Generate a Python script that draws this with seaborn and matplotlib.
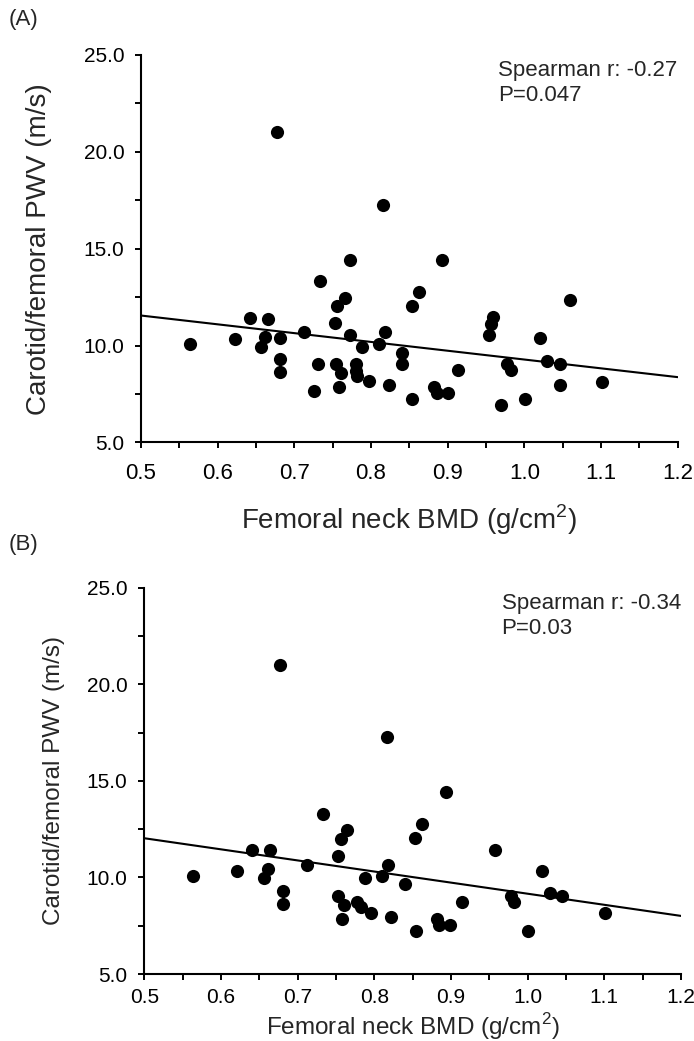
import numpy as np
import pandas as pd
import seaborn as sns
import matplotlib.pyplot as plt
from matplotlib.ticker import MultipleLocator

# Panel A: all subjects
bmd_a = [0.564, 0.678, 0.816, 0.772, 0.733, 0.766, 0.756, 0.642, 0.665, 0.753,
         0.622, 0.662, 0.656, 0.681, 0.712, 0.681, 0.681, 0.731, 0.726, 0.754,
         0.761, 0.758, 0.773, 0.781, 0.780, 0.782, 0.788, 0.797, 0.810, 0.818,
         0.823, 0.840, 0.841, 0.853, 0.862, 0.854, 0.892, 0.882, 0.886, 0.900,
         0.914, 0.954, 0.956, 0.959, 0.970, 0.978, 0.983, 1.001, 1.020, 1.030,
         1.046, 1.046, 1.059, 1.101]
pwv_a = [10.09, 21.02, 17.28, 14.43, 13.31, 12.48, 12.02, 11.42, 11.38, 11.19,
         10.35, 10.43, 9.92, 10.38, 10.69, 9.31, 8.65, 9.05, 7.67, 9.05,
         8.60, 7.88, 10.55, 9.04, 8.71, 8.43, 9.95, 8.19, 10.09, 10.69,
         7.97, 9.64, 9.05, 12.04, 12.78, 7.24, 14.43, 7.85, 7.54, 7.54,
         8.74, 10.54, 11.11, 11.45, 6.93, 9.05, 8.74, 7.24, 10.40, 9.19,
         9.05, 7.97, 12.33, 8.12]

# Panel B: subgroup
bmd_b = [0.563, 0.677, 0.816, 0.733, 0.765, 0.756, 0.641, 0.664, 0.752, 0.621,
         0.662, 0.656, 0.712, 0.681, 0.681, 0.753, 0.761, 0.758, 0.778, 0.783,
         0.796, 0.788, 0.810, 0.818, 0.822, 0.840, 0.853, 0.862, 0.893, 0.854,
         0.882, 0.885, 0.899, 0.914, 0.958, 0.978, 0.982, 1.001, 1.019, 1.029,
         1.045, 1.101]
pwv_b = [10.07, 21.02, 17.27, 13.31, 12.46, 12.00, 11.43, 11.40, 11.10, 10.34,
         10.44, 9.95, 10.67, 9.31, 8.65, 9.03, 8.57, 7.84, 8.74, 8.45,
         8.17, 9.95, 10.07, 10.67, 7.96, 9.64, 12.02, 12.77, 14.41, 7.22,
         7.83, 7.54, 7.54, 8.72, 11.43, 9.03, 8.72, 7.22, 10.36, 9.17,
         9.03, 8.14]

# fitted lines as drawn in the figure (end points)
fit_x = [0.5, 1.2]
fit_a = [11.55, 8.37]
fit_b = [12.03, 8.01]

stats_a = ["Spearman r: -0.27", "P=0.047"]
stats_b = ["Spearman r: -0.34", "P=0.03"]

sns.set_style("ticks")
plt.rcParams['font.family'] = ['Liberation Sans', 'DejaVu Sans']
plt.rcParams['mathtext.fontset'] = 'custom'
plt.rcParams['mathtext.rm'] = 'Liberation Sans'

fig = plt.figure(figsize=(6.94, 10.41), dpi=100)
ax_a = fig.add_axes([0.2032, 0.575, 0.7733, 0.3722])
ax_b = fig.add_axes([0.2079, 0.0643, 0.7734, 0.3712])

panels = [
    (ax_a, bmd_a, pwv_a, fit_a, stats_a, 20, -0.166, -0.155, 11, 16),
    (ax_b, bmd_b, pwv_b, fit_b, stats_b, 17.5, -0.148, -0.095, 6, 15),
]

for ax, x, y, fit, stats, lab_fs, ylab_x, xlab_y, xpad, xtick_fs in panels:
    df = pd.DataFrame({"bmd": x, "pwv": y})
    sns.scatterplot(data=df, x="bmd", y="pwv", ax=ax, color="black",
                    s=90, edgecolor="black", linewidth=0, clip_on=False)
    sns.lineplot(x=fit_x, y=fit, ax=ax, color="black", linewidth=1.5)

    ax.set_xlim(0.5, 1.2)
    ax.set_ylim(5, 25)
    ax.xaxis.set_major_locator(MultipleLocator(0.1))
    ax.xaxis.set_minor_locator(MultipleLocator(0.05))
    ax.yaxis.set_major_locator(MultipleLocator(5))
    ax.yaxis.set_minor_locator(MultipleLocator(2.5))
    ax.xaxis.set_major_formatter(lambda v, p: f"{v:.1f}")
    ax.yaxis.set_major_formatter(lambda v, p: f"{v:.1f}")
    ax.tick_params(which="both", direction="out", length=4, width=1.4,
                   color="black", labelcolor="black")
    ax.tick_params(axis="x", which="major", pad=xpad, labelsize=xtick_fs)
    ax.tick_params(axis="y", which="major", pad=8, labelsize=15)

    for side in ["top", "right"]:
        ax.spines[side].set_visible(False)
    for side in ["left", "bottom"]:
        ax.spines[side].set_linewidth(1.5)
        ax.spines[side].set_color("black")

    ax.set_xlabel(r"Femoral neck BMD (g/cm$^{2}$)", fontsize=lab_fs)
    ax.set_ylabel("Carotid/femoral PWV (m/s)", fontsize=lab_fs)
    ax.yaxis.set_label_coords(ylab_x, 0.5)
    ax.xaxis.set_label_coords(0.5, xlab_y)

    ax.text(0.966, 24.2, stats[0], fontsize=16, va="center", ha="left")
    ax.text(0.966, 22.9, stats[1], fontsize=16, va="center", ha="left")

fig.text(0.012, 0.981, "(A)", fontsize=16, va="center", ha="left")
fig.text(0.012, 0.477, "(B)", fontsize=16, va="center", ha="left")

plt.savefig("out.png", dpi=100, facecolor="white")
